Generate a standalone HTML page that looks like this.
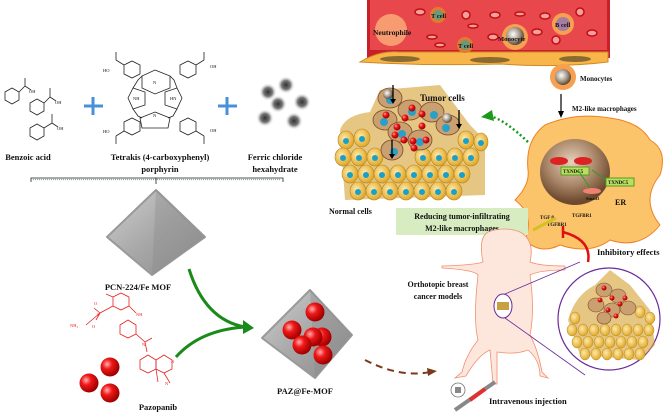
<!DOCTYPE html>
<html><head><meta charset="utf-8"><style>
html,body{margin:0;padding:0;background:#fff;width:669px;height:417px;overflow:hidden}
svg{display:block}
text{font-family:"Liberation Serif",serif;font-weight:bold;fill:#111}
</style></head><body>
<svg width="669" height="417" viewBox="0 0 669 417" xmlns="http://www.w3.org/2000/svg">
<defs>
<radialGradient id="rb" cx="35%" cy="35%" r="65%"><stop offset="0" stop-color="#ffb0b0"/><stop offset="0.4" stop-color="#f01818"/><stop offset="1" stop-color="#a00000"/></radialGradient>
<radialGradient id="fe" cx="50%" cy="50%" r="50%"><stop offset="0" stop-color="#333"/><stop offset="0.5" stop-color="#777"/><stop offset="1" stop-color="#fff" stop-opacity="0"/></radialGradient>
<linearGradient id="oct" x1="0" y1="0" x2="1" y2="1"><stop offset="0" stop-color="#d0d0d0"/><stop offset="0.5" stop-color="#a8a8a8"/><stop offset="1" stop-color="#8a8a8a"/></linearGradient>
<radialGradient id="nuc" cx="45%" cy="35%" r="60%"><stop offset="0" stop-color="#e6d2bd"/><stop offset="0.6" stop-color="#a88466"/><stop offset="1" stop-color="#6d4a2f"/></radialGradient>
<radialGradient id="mono" cx="40%" cy="40%" r="60%"><stop offset="0" stop-color="#fff"/><stop offset="0.6" stop-color="#a89a8a"/><stop offset="1" stop-color="#5a4a3a"/></radialGradient>
<radialGradient id="cell" cx="40%" cy="40%" r="60%"><stop offset="0" stop-color="#ffe9a8"/><stop offset="1" stop-color="#e0a92a"/></radialGradient>
</defs>

<!-- blood vessel -->
<path d="M367,0 H610 V58 H367 Z" fill="#c8202a"/>
<path d="M370,0 H607 V50 H370 Z" fill="#e8474c"/>
<path d="M360,62 Q380,50 400,52 H608 V62 Q560,68 500,64 Q430,66 360,62 Z" fill="#f7b54a" stroke="#d08a20" stroke-width="1"/>
<ellipse cx="400" cy="59" rx="20" ry="3" fill="#8a6a30"/><ellipse cx="490" cy="60" rx="20" ry="3" fill="#8a6a30"/><ellipse cx="575" cy="59" rx="16" ry="3" fill="#8a6a30"/>
<g fill="#f4a0a0" stroke="#c01010" stroke-width="1.5">
<ellipse cx="420" cy="12" rx="5" ry="3"/><ellipse cx="466" cy="15" rx="4" ry="4"/><ellipse cx="495" cy="15" rx="5" ry="3"/><ellipse cx="520" cy="14" rx="5" ry="2"/><ellipse cx="545" cy="16" rx="5" ry="3"/><ellipse cx="580" cy="12" rx="4" ry="4"/><ellipse cx="432" cy="37" rx="5" ry="2"/><ellipse cx="473" cy="26" rx="5" ry="2"/><ellipse cx="493" cy="37" rx="5" ry="3"/><ellipse cx="537" cy="32" rx="5" ry="3"/><ellipse cx="556" cy="40" rx="4" ry="4"/><ellipse cx="592" cy="33" rx="5" ry="3"/><ellipse cx="440" cy="45" rx="5" ry="2"/>
</g>
<circle cx="391" cy="30" r="16" fill="#fbb07a" opacity="0.8"/><text x="373" y="35" font-size="7.5">Neutrophile</text>
<circle cx="438" cy="15" r="8" fill="#e47a30"/><circle cx="438" cy="15" r="5" fill="#6a9a7a"/><text x="431" y="18" font-size="6.5">T cell</text>
<circle cx="465" cy="45" r="8" fill="#e47a30"/><circle cx="465" cy="45" r="5" fill="#6a9a7a"/><text x="458" y="48" font-size="6.5">T cell</text>
<circle cx="515" cy="37" r="13" fill="#f7a050"/><circle cx="515" cy="36" r="9" fill="url(#mono)"/><text x="498" y="41" font-size="6.5">Monocyte</text>
<circle cx="563" cy="24" r="11" fill="#f7a050"/><circle cx="563" cy="24" r="7" fill="#a67ca0"/><text x="555" y="27" font-size="6.5">B cell</text>

<!-- monocyte and arrow -->
<circle cx="563" cy="77" r="13" fill="#f7a050"/><circle cx="563" cy="77" r="8" fill="url(#mono)"/>
<text x="580" y="81" font-size="7">Monocytes</text>
<line x1="561" y1="94" x2="561" y2="113" stroke="#000" stroke-width="1.2"/><path d="M558,111 L561,118 L564,111 Z" fill="#000"/>
<text x="572" y="111" font-size="7">M2-like  macrophages</text>

<!-- macrophage -->
<path d="M545,125 Q575,112 610,118 Q640,122 650,140 Q668,150 660,175 Q640,200 660,225 Q640,250 610,240 Q590,255 560,245 Q540,255 525,240 Q535,215 515,200 Q530,185 528,170 Q525,140 545,125 Z" fill="#fbc46a" stroke="#f08020" stroke-width="1"/>
<ellipse cx="575" cy="172" rx="35" ry="33" fill="url(#nuc)"/>
<ellipse cx="559" cy="161" rx="9" ry="4" fill="#d22"/><ellipse cx="583" cy="161" rx="9" ry="4" fill="#d22"/>
<rect x="561" y="167" width="28" height="8" fill="#b8e060" stroke="#5a9a20"/><text x="563" y="173" font-size="5">TXNDC5</text>
<rect x="606" y="178" width="28" height="8" fill="#b8e060" stroke="#5a9a20"/><text x="608" y="184" font-size="5">TXNDC5</text>
<text x="615" y="205" font-size="8">ER</text>
<ellipse cx="592" cy="191" rx="9" ry="3" fill="#f08070"/><text x="586" y="200" font-size="4.5">Smad3</text>
<line x1="590" y1="188" x2="578" y2="170" stroke="#2a9a2a"/><line x1="592" y1="170" x2="606" y2="180" stroke="#2a9a2a"/>
<text x="540" y="219" font-size="5">TGF β</text><text x="572" y="217" font-size="5">TGFBR1</text><text x="547" y="226" font-size="5">TGFBR1</text>
<line x1="533" y1="230" x2="556" y2="218" stroke="#d6c020" stroke-width="3"/>
<!-- green dotted arrow -->
<path d="M528,142 Q505,120 490,116" fill="none" stroke="#1a9a1a" stroke-width="2.5" stroke-dasharray="2,2.5"/>
<path d="M492,110 L481,117 L494,121 Z" fill="#1a9a1a"/>

<!-- tumor / normal cells cluster -->
<path d="M340,130 Q345,115 370,112 L380,90 L440,85 L470,125 L485,140 L485,195 L345,200 Z" fill="#d6a030" opacity="0.6"/>
<g fill="url(#cell)" stroke="#b88520" stroke-width="0.6">
<ellipse cx="346" cy="140" rx="8" ry="9"/><ellipse cx="362" cy="138" rx="8" ry="9"/><ellipse cx="466" cy="140" rx="8" ry="9"/><ellipse cx="481" cy="142" rx="7" ry="9"/>
<ellipse cx="343" cy="157" rx="8" ry="9"/><ellipse cx="359" cy="157" rx="8" ry="9"/><ellipse cx="375" cy="157" rx="8" ry="9"/><ellipse cx="423" cy="157" rx="8" ry="9"/><ellipse cx="439" cy="157" rx="8" ry="9"/><ellipse cx="455" cy="157" rx="8" ry="9"/><ellipse cx="471" cy="157" rx="8" ry="9"/>
<ellipse cx="350" cy="174" rx="8" ry="9"/><ellipse cx="366" cy="174" rx="8" ry="9"/><ellipse cx="382" cy="174" rx="8" ry="9"/><ellipse cx="398" cy="174" rx="8" ry="9"/><ellipse cx="414" cy="174" rx="8" ry="9"/><ellipse cx="430" cy="174" rx="8" ry="9"/><ellipse cx="446" cy="174" rx="8" ry="9"/><ellipse cx="462" cy="174" rx="8" ry="9"/>
<ellipse cx="358" cy="191" rx="8" ry="9"/><ellipse cx="374" cy="191" rx="8" ry="9"/><ellipse cx="390" cy="191" rx="8" ry="9"/><ellipse cx="406" cy="191" rx="8" ry="9"/><ellipse cx="422" cy="191" rx="8" ry="9"/><ellipse cx="438" cy="191" rx="8" ry="9"/><ellipse cx="454" cy="191" rx="8" ry="9"/>
</g>
<g fill="#1aa0c8">
<circle cx="346" cy="141" r="3"/><circle cx="362" cy="139" r="3"/><circle cx="466" cy="141" r="3"/><circle cx="481" cy="143" r="3"/>
<circle cx="343" cy="158" r="3"/><circle cx="359" cy="158" r="3"/><circle cx="375" cy="158" r="3"/><circle cx="423" cy="158" r="3"/><circle cx="439" cy="158" r="3"/><circle cx="455" cy="158" r="3"/><circle cx="471" cy="158" r="3"/>
<circle cx="350" cy="175" r="3"/><circle cx="366" cy="175" r="3"/><circle cx="382" cy="175" r="3"/><circle cx="398" cy="175" r="3"/><circle cx="414" cy="175" r="3"/><circle cx="430" cy="175" r="3"/><circle cx="446" cy="175" r="3"/><circle cx="462" cy="175" r="3"/>
<circle cx="358" cy="192" r="3"/><circle cx="374" cy="192" r="3"/><circle cx="390" cy="192" r="3"/><circle cx="406" cy="192" r="3"/><circle cx="422" cy="192" r="3"/><circle cx="438" cy="192" r="3"/><circle cx="454" cy="192" r="3"/>
</g>
<g fill="#caa070" stroke="#7a4a2a" stroke-width="0.8">
<ellipse cx="390" cy="98" rx="12" ry="10"/><ellipse cx="410" cy="110" rx="12" ry="10"/><ellipse cx="385" cy="120" rx="12" ry="10"/><ellipse cx="432" cy="112" rx="12" ry="10"/><ellipse cx="400" cy="132" rx="12" ry="10"/><ellipse cx="420" cy="140" rx="12" ry="10"/><ellipse cx="448" cy="125" rx="12" ry="10"/><ellipse cx="392" cy="150" rx="11" ry="10"/>
</g>
<g fill="#2aa0c8"><circle cx="390" cy="100" r="4"/><circle cx="412" cy="112" r="4"/><circle cx="384" cy="122" r="4"/><circle cx="434" cy="115" r="4"/><circle cx="402" cy="134" r="4"/><circle cx="420" cy="142" r="4"/><circle cx="446" cy="128" r="4"/><circle cx="394" cy="152" r="4"/></g>
<g fill="url(#rb)"><circle cx="412" cy="108" r="3.5"/><circle cx="386" cy="115" r="3.5"/><circle cx="405" cy="118" r="3.5"/><circle cx="422" cy="114" r="3.5"/><circle cx="397" cy="127" r="3.5"/><circle cx="422" cy="126" r="3.5"/><circle cx="395" cy="135" r="3.5"/><circle cx="404" cy="140" r="3.5"/><circle cx="413" cy="141" r="3.5"/><circle cx="426" cy="140" r="3.5"/><circle cx="414" cy="148" r="3.5"/></g>
<circle cx="388" cy="94" r="5" fill="url(#mono)"/><circle cx="447" cy="118" r="5" fill="url(#mono)"/>
<g stroke="#000" stroke-width="1.3"><line x1="393" y1="85" x2="393" y2="100"/><line x1="459" y1="110" x2="459" y2="125"/><line x1="392" y1="140" x2="392" y2="155"/></g>
<g fill="#000"><path d="M390,99 L393,104 L396,99Z"/><path d="M456,124 L459,129 L462,124Z"/><path d="M389,154 L392,159 L395,154Z"/></g>
<text x="420" y="101" font-size="9">Tumor cells</text>
<text x="329" y="214" font-size="8">Normal cells</text>

<!-- green box -->
<rect x="396" y="208" width="132" height="27" fill="#d7ecc0"/>
<text x="462" y="219" font-size="8" text-anchor="middle">Reducing tumor-infiltrating</text>
<text x="462" y="231" font-size="8" text-anchor="middle">M2-like macrophages</text>

<!-- mouse -->
<path d="M488,232 Q478,238 483,262 Q475,265 442,266 L442,268 Q475,270 478,275 Q473,320 478,340 Q466,355 462,372 L455,378 L466,376 Q478,355 490,350 L493,384 L497,384 L497,352 Q515,355 528,350 Q540,360 540,376 L548,378 L542,372 Q538,350 530,335 Q535,310 530,275 Q540,270 565,270 L565,266 Q540,266 530,262 Q535,240 520,232 Q505,226 488,232 Z" fill="#fde7dc" stroke="#f09070" stroke-width="0.8"/>
<ellipse cx="503" cy="306" rx="9" ry="12" fill="#fff" stroke="#6a2a9a" stroke-width="1"/>
<rect x="497" y="302" width="12" height="8" fill="#c8a040"/>
<line x1="505" y1="294" x2="580" y2="262" stroke="#6a2a9a" stroke-width="0.8"/><line x1="505" y1="318" x2="585" y2="375" stroke="#6a2a9a" stroke-width="0.8"/>
<text x="438" y="287" font-size="8" text-anchor="middle">Orthotopic breast</text>
<text x="438" y="299" font-size="8" text-anchor="middle">cancer models</text>

<!-- zoom circle -->
<circle cx="609" cy="319" r="51" fill="#fff" stroke="#6a2a9a" stroke-width="1.2"/>
<path d="M568,320 Q575,295 595,285 L610,270 L630,285 L650,310 L655,345 L640,360 L580,355 Z" fill="#d6a030" opacity="0.6"/>
<g fill="url(#cell)" stroke="#b88520" stroke-width="0.5">
<ellipse cx="575" cy="318" rx="5" ry="6"/><ellipse cx="640" cy="312" rx="5" ry="6"/><ellipse cx="650" cy="318" rx="5" ry="6"/>
<ellipse cx="572" cy="330" rx="5" ry="6"/><ellipse cx="583" cy="330" rx="5" ry="6"/><ellipse cx="594" cy="330" rx="5" ry="6"/><ellipse cx="605" cy="330" rx="5" ry="6"/><ellipse cx="616" cy="330" rx="5" ry="6"/><ellipse cx="627" cy="330" rx="5" ry="6"/><ellipse cx="638" cy="330" rx="5" ry="6"/><ellipse cx="649" cy="330" rx="5" ry="6"/>
<ellipse cx="577" cy="342" rx="5" ry="6"/><ellipse cx="588" cy="342" rx="5" ry="6"/><ellipse cx="599" cy="342" rx="5" ry="6"/><ellipse cx="610" cy="342" rx="5" ry="6"/><ellipse cx="621" cy="342" rx="5" ry="6"/><ellipse cx="632" cy="342" rx="5" ry="6"/><ellipse cx="643" cy="342" rx="5" ry="6"/>
<ellipse cx="585" cy="354" rx="5" ry="6"/><ellipse cx="596" cy="354" rx="5" ry="6"/><ellipse cx="607" cy="354" rx="5" ry="6"/><ellipse cx="618" cy="354" rx="5" ry="6"/><ellipse cx="629" cy="354" rx="5" ry="6"/><ellipse cx="640" cy="354" rx="5" ry="6"/>
</g>
<g fill="#caa070" stroke="#7a4a2a" stroke-width="0.6"><ellipse cx="604" cy="290" rx="8" ry="7"/><ellipse cx="618" cy="296" rx="8" ry="7"/><ellipse cx="596" cy="305" rx="8" ry="7"/><ellipse cx="612" cy="310" rx="8" ry="7"/><ellipse cx="628" cy="308" rx="8" ry="7"/><ellipse cx="604" cy="318" rx="7" ry="6"/></g>
<g fill="url(#rb)"><circle cx="604" cy="288" r="2.5"/><circle cx="612" cy="298" r="2.5"/><circle cx="600" cy="300" r="2.5"/><circle cx="620" cy="304" r="2.5"/><circle cx="608" cy="310" r="2.5"/><circle cx="616" cy="316" r="2.5"/><circle cx="625" cy="298" r="2.5"/></g>

<!-- inhibitory arrow -->
<path d="M588,262 Q592,240 563,232" fill="none" stroke="#e01010" stroke-width="2.5"/>
<line x1="563" y1="226" x2="563" y2="238" stroke="#e01010" stroke-width="2.5"/>
<text x="597" y="255" font-size="8.5">Inhibitory effects</text>

<!-- injection -->
<circle cx="458" cy="390" r="7" fill="#fff" stroke="#777" stroke-width="0.8"/><rect x="455" y="387" width="6" height="6" fill="#888"/>
<line x1="455" y1="410" x2="495" y2="382" stroke="#888" stroke-width="4"/><line x1="470" y1="400" x2="485" y2="389" stroke="#e03030" stroke-width="4"/>
<text x="489" y="404" font-size="8.5">Intravenous injection</text>

<!-- brown dashed arrow -->
<path d="M365,360 Q400,378 430,372" fill="none" stroke="#7a3a1a" stroke-width="2" stroke-dasharray="7,5"/>
<path d="M427,368 L437,371 L428,376 Z" fill="#7a3a1a"/>

<!-- LEFT: benzoic acids -->
<g fill="none" stroke="#222" stroke-width="0.8">
<polygon points="5,92 12,88 19,92 19,100 12,104 5,100"/><line x1="19" y1="92" x2="25" y2="86"/><line x1="25" y1="86" x2="25" y2="78"/><line x1="25" y1="86" x2="31" y2="90"/>
<polygon points="30,103 37,99 44,103 44,111 37,115 30,111"/><line x1="44" y1="103" x2="50" y2="97"/><line x1="50" y1="97" x2="50" y2="88"/><line x1="50" y1="97" x2="56" y2="101"/>
<polygon points="30,128 37,124 44,128 44,136 37,140 30,136"/><line x1="44" y1="128" x2="52" y2="123"/><line x1="52" y1="123" x2="52" y2="114"/><line x1="52" y1="123" x2="58" y2="127"/>
</g>
<g font-size="4.5"><text x="29" y="93" style="font-weight:normal">OH</text><text x="55" y="104" style="font-weight:normal">OH</text><text x="57" y="130" style="font-weight:normal">OH</text></g>
<text x="28" y="160" font-size="8.5" text-anchor="middle">Benzoic acid</text>
<g stroke="#4a90d8" stroke-width="3"><line x1="84" y1="106" x2="103" y2="106"/><line x1="93" y1="97" x2="93" y2="115"/><line x1="218" y1="106" x2="237" y2="106"/><line x1="227" y1="97" x2="227" y2="115"/></g>

<!-- porphyrin -->
<g fill="none" stroke="#222" stroke-width="0.8">
<polygon points="155,70 170,76 170,88 155,94 142,88 142,76"/>
<polygon points="133,88 145,92 145,105 133,109 128,98"/><polygon points="177,88 165,92 165,105 177,109 182,98"/>
<polygon points="155,112 170,118 168,128 142,128 140,118"/>
<path d="M142,76 L138,80 L133,88 M170,76 L174,80 L177,88 M133,109 L138,116 L142,118 M177,109 L173,116 L168,118"/>
<polygon points="124,65 132,61 140,65 140,74 132,78 124,74"/><polygon points="180,65 188,61 196,65 196,74 188,78 180,74"/>
<polygon points="124,122 132,118 140,122 140,131 132,135 124,131"/><polygon points="180,122 188,118 196,122 196,131 188,135 180,131"/>
<line x1="124" y1="65" x2="116" y2="60"/><line x1="116" y1="60" x2="116" y2="52"/><line x1="196" y1="65" x2="204" y2="60"/><line x1="204" y1="60" x2="204" y2="52"/>
<line x1="124" y1="131" x2="116" y2="136"/><line x1="116" y1="136" x2="116" y2="144"/><line x1="196" y1="131" x2="204" y2="136"/><line x1="204" y1="136" x2="204" y2="144"/>
</g>
<g font-size="4.5"><text x="103" y="72" style="font-weight:normal">HO</text><text x="210" y="68" style="font-weight:normal">OH</text><text x="103" y="133" style="font-weight:normal">HO</text><text x="210" y="132" style="font-weight:normal">OH</text><text x="133" y="100" style="font-weight:normal">NH</text><text x="170" y="100" style="font-weight:normal">HN</text><text x="153" y="84" style="font-weight:normal">N</text><text x="153" y="117" style="font-weight:normal">N</text></g>
<text x="160" y="160" font-size="8.5" text-anchor="middle">Tetrakis (4-carboxyphenyl)</text>
<text x="160" y="172" font-size="8.5" text-anchor="middle">porphyrin</text>

<!-- ferric -->
<g fill="url(#fe)"><circle cx="268" cy="92" r="9"/><circle cx="286" cy="85" r="9"/><circle cx="278" cy="104" r="9"/><circle cx="302" cy="102" r="9"/><circle cx="265" cy="118" r="9"/><circle cx="294" cy="121" r="9"/></g>
<text x="275" y="160" font-size="8.5" text-anchor="middle">Ferric chloride</text>
<text x="275" y="172" font-size="8.5" text-anchor="middle">hexahydrate</text>

<!-- bracket -->
<path d="M31,182 V178 H283 V182" fill="none" stroke="#222" stroke-width="0.8"/>
<line x1="33" y1="179.5" x2="281" y2="179.5" stroke="#8aa" stroke-width="1.2" stroke-dasharray="1,1"/>
<line x1="156" y1="178" x2="156" y2="184" stroke="#222" stroke-width="0.8"/>

<!-- PCN octahedron -->
<polygon points="156,190 107,237 152,275 205,237" fill="url(#oct)" stroke="#999" stroke-width="2" stroke-linejoin="round"/>
<polygon points="156,190 152,275 205,237" fill="#8a8a8a" opacity="0.35"/>
<text x="138" y="290" font-size="8.5" text-anchor="middle">PCN-224/Fe MOF</text>

<!-- green arrows -->
<path d="M189,269 Q205,320 245,327" fill="none" stroke="#1a8a1a" stroke-width="3"/>
<path d="M176,357 Q200,330 245,327" fill="none" stroke="#1a8a1a" stroke-width="3"/>
<path d="M243,320 L254,328 L243,334 Z" fill="#1a8a1a"/>

<!-- pazopanib structure -->
<g fill="none" stroke="#e82020" stroke-width="0.8">
<polygon points="113,297 121,293 129,297 129,306 121,310 113,306"/><line x1="113" y1="297" x2="106" y2="294"/><line x1="113" y1="306" x2="100" y2="313"/><line x1="100" y1="313" x2="96" y2="320"/><line x1="100" y1="313" x2="86" y2="325"/><line x1="100" y1="313" x2="94" y2="308"/><line x1="129" y1="306" x2="136" y2="313"/>
<polygon points="120,325 128,320 136,325 136,334 128,338 120,334"/><line x1="136" y1="334" x2="145" y2="342"/><line x1="145" y1="342" x2="152" y2="338"/><line x1="145" y1="342" x2="147" y2="352"/>
<polygon points="140,360 148,355 156,360 156,369 148,373 140,369"/><polygon points="156,360 164,355 172,360 172,369 164,373 156,369"/><line x1="156" y1="369" x2="158" y2="382"/><line x1="164" y1="373" x2="170" y2="383"/>
</g>
<g font-size="4.5"><text x="70" y="327" fill="#e82020" style="font-weight:normal;fill:#e82020">NH₂</text><text x="94" y="305" style="font-weight:normal;fill:#e82020">O</text><text x="92" y="328" style="font-weight:normal;fill:#e82020">O</text><text x="97" y="316" style="font-weight:normal;fill:#e82020">S</text><text x="136" y="316" style="font-weight:normal;fill:#e82020">NH</text><text x="142" y="346" style="font-weight:normal;fill:#e82020">N</text><text x="171" y="363" style="font-weight:normal;fill:#e82020">N</text><text x="165" y="385" style="font-weight:normal;fill:#e82020">N</text></g>
<g fill="url(#rb)"><circle cx="110" cy="367" r="9.5"/><circle cx="89" cy="383" r="9.5"/><circle cx="110" cy="393" r="9.5"/></g>
<text x="158" y="410" font-size="8.5" text-anchor="middle">Pazopanib</text>

<!-- PAZ@Fe-MOF -->
<polygon points="310,290 262,338 315,378 352,335" fill="url(#oct)" stroke="#999" stroke-width="2" stroke-linejoin="round"/>
<polygon points="310,290 315,378 352,335" fill="#8a8a8a" opacity="0.35"/>
<g fill="url(#rb)"><circle cx="315" cy="312" r="9.5"/><circle cx="292" cy="330" r="9.5"/><circle cx="322" cy="337" r="9.5"/><circle cx="313" cy="337" r="9.5"/><circle cx="302" cy="345" r="9.5"/><circle cx="323" cy="355" r="9.5"/></g>
<text x="305" y="394" font-size="8.5" text-anchor="middle">PAZ@Fe-MOF</text>
</svg>
</body></html>
